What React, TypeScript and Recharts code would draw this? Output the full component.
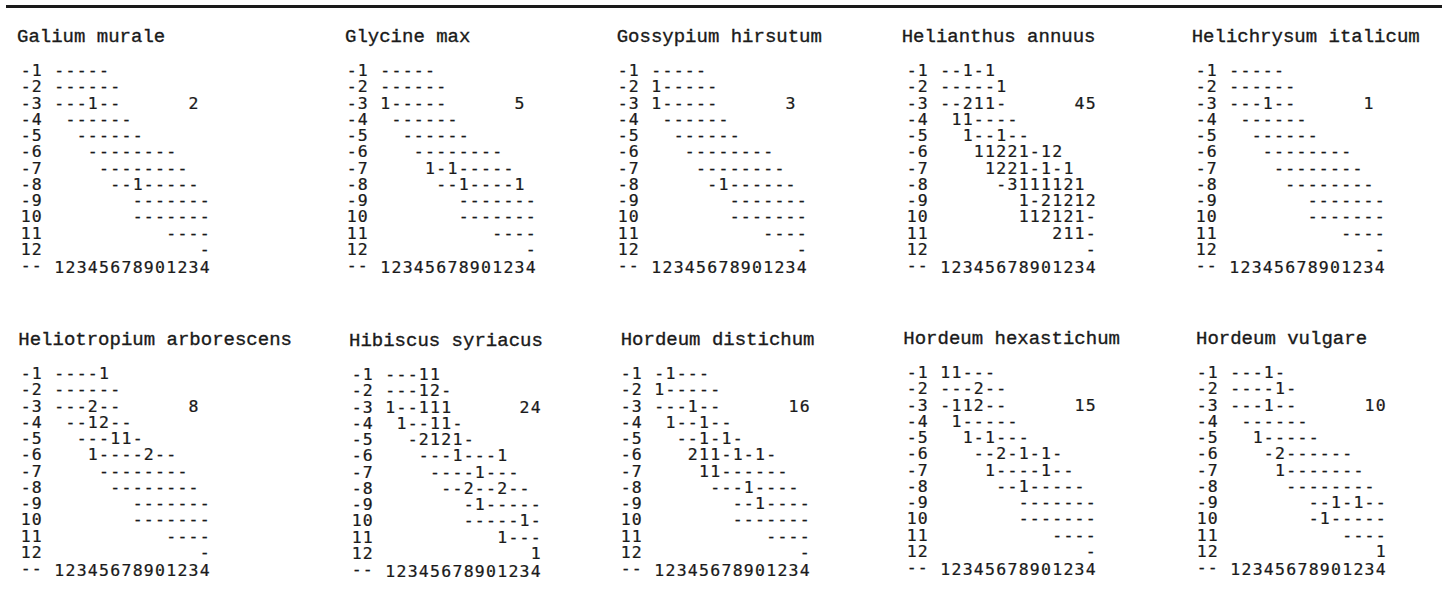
import { ScatterChart, Scatter, XAxis, YAxis } from "recharts";

// grid axes
const ROW_LABELS = ["-1", "-2", "-3", "-4", "-5", "-6", "-7", "-8", "-9", "10", "11", "12"];
const COL_LABELS = ["1", "2", "3", "4", "5", "6", "7", "8", "9", "0", "1", "2", "3", "4"];
const CORNER_LABEL = "--";
// first grid column used by each row
const ROW_FIRST_COL = [1, 1, 1, 2, 3, 4, 5, 6, 8, 8, 11, 14];

const SPECIES = [
  "Galium murale",
  "Glycine max",
  "Gossypium hirsutum",
  "Helianthus annuus",
  "Helichrysum italicum",
  "Heliotropium arborescens",
  "Hibiscus syriacus",
  "Hordeum distichum",
  "Hordeum hexastichum",
  "Hordeum vulgare",
];

// counts per cell, "-" = none
const galiumMurale = ["-----", "------", "---1--", "------", "------", "--------", "--------", "--1-----", "-------", "-------", "----", "-"];
const glycineMax = ["-----", "------", "1-----", "------", "------", "--------", "1-1-----", "--1----1", "-------", "-------", "----", "-"];
const gossypiumHirsutum = ["-----", "1-----", "1-----", "------", "------", "--------", "--------", "-1------", "-------", "-------", "----", "-"];
const helianthusAnnuus = ["--1-1", "-----1", "--211-", "11----", "1--1--", "11221-12", "1221-1-1", "-3111121", "1-21212", "112121-", "211-", "-"];
const helichrysumItalicum = ["-----", "------", "---1--", "------", "------", "--------", "--------", "--------", "-------", "-------", "----", "-"];
const heliotropiumArborescens = ["----1", "------", "---2--", "--12--", "---11-", "1----2--", "--------", "--------", "-------", "-------", "----", "-"];
const hibiscusSyriacus = ["---11", "---12-", "1--111", "1--11-", "-2121-", "---1---1", "----1---", "--2--2--", "-1-----", "-----1-", "1---", "1"];
const hordeumDistichum = ["-1---", "1-----", "---1--", "1--1--", "--1-1-", "211-1-1-", "11------", "---1----", "--1----", "-------", "----", "-"];
const hordeumHexastichum = ["11---", "---2--", "-112--", "1-----", "1-1---", "--2-1-1-", "1----1--", "--1-----", "-------", "-------", "----", "-"];
const hordeumVulgare = ["---1-", "----1-", "---1--", "------", "1-----", "-2------", "1-------", "--------", "--1-1--", "-1-----", "----", "1"];

const TOTALS = [2, 5, 3, 45, 1, 8, 24, 16, 15, 10];

const SPECIES_ROWS = [
  galiumMurale,
  glycineMax,
  gossypiumHirsutum,
  helianthusAnnuus,
  helichrysumItalicum,
  heliotropiumArborescens,
  hibiscusSyriacus,
  hordeumDistichum,
  hordeumHexastichum,
  hordeumVulgare,
];

// layout
const CHAR_W = 11.2;
const ROW_H = 16.25;
const PAD = 10;
const INK = "#1a1a1a";
const GRID_FONT = "'DejaVu Sans Mono', monospace";
const GRID_SIZE = 16.5;
const TITLE_FONT = "'Liberation Mono', monospace";
const TOTAL_POS = { col: 13, row: 3 };
const CORNER_ROW = ROW_LABELS.length + 1;
const X_TICKS = COL_LABELS.map((_, i) => i + 1);
const Y_TICKS = [...ROW_LABELS.map((_, i) => i + 1), CORNER_ROW];

const LAYOUT = [
  { col1: 53.3, row1: 70, titleX: 17, titleY: 42.5 },
  { col1: 380, row1: 70, titleX: 345, titleY: 42.5 },
  { col1: 651, row1: 70, titleX: 616.7, titleY: 42.5 },
  { col1: 939.3, row1: 70, titleX: 901.7, titleY: 42.5 },
  { col1: 1228.3, row1: 70, titleX: 1191.7, titleY: 42.5 },
  { col1: 53.3, row1: 373, titleX: 18.3, titleY: 346 },
  { col1: 385, row1: 374, titleX: 349, titleY: 346.5 },
  { col1: 653.3, row1: 373, titleX: 620.7, titleY: 346 },
  { col1: 939.3, row1: 372, titleX: 903.3, titleY: 345 },
  { col1: 1230, row1: 372, titleX: 1196, titleY: 345 },
];

const charRow = (text: string, x0: number, y: number) => (
  <g>
    {text.split("").map((c, i) => (
      <text
        key={i}
        x={x0 + i * CHAR_W}
        y={y}
        dy="0.36em"
        textAnchor="middle"
        fill={INK}
        stroke={INK}
        strokeWidth={0.25}
        fontFamily={GRID_FONT}
        fontSize={GRID_SIZE}
      >
        {c}
      </text>
    ))}
  </g>
);

// row labels sit in the two character cells left of the blank column
const RowTick = (props: any) => {
  const { x, y, payload } = props;
  const label = payload.value === CORNER_ROW ? CORNER_LABEL : ROW_LABELS[payload.value - 1] ?? "";
  return charRow(label, x - 1.5 * CHAR_W, y);
};

// column digits share the row of the "--" corner label
const ColTick = (props: any) => {
  const { x, y, payload } = props;
  return charRow(COL_LABELS[payload.value - 1], x, y - ROW_H / 2 + 2);
};

const renderGlyph = (props: any) => {
  const { cx, cy, payload } = props;
  return charRow(payload.ch, cx, cy);
};

const renderTotal = (props: any) => {
  const { cx, cy, payload } = props;
  return charRow(payload.label, cx, cy);
};

const Panel = ({ idx }: { idx: number }) => {
  const lay = LAYOUT[idx];
  const cells = SPECIES_ROWS[idx].flatMap((s, r) =>
    s.split("").map((ch, j) => ({ col: ROW_FIRST_COL[r] + j, row: r + 1, ch }))
  );
  const total = [{ ...TOTAL_POS, label: String(TOTALS[idx]) }];
  const width = 17 * CHAR_W + PAD;
  const height = 13 * ROW_H + 4 + 2 * PAD;

  return (
    <>
      <div
        style={{
          position: "absolute",
          left: lay.titleX,
          top: lay.titleY - 14.6,
          fontFamily: TITLE_FONT,
          fontSize: 19,
          lineHeight: "19px",
          color: INK,
          whiteSpace: "nowrap",
          WebkitTextStroke: "0.35px " + INK,
        }}
      >
        {SPECIES[idx]}
      </div>
      <div style={{ position: "absolute", left: lay.col1 - 3 * CHAR_W, top: lay.row1 - ROW_H / 2 - PAD }}>
        <ScatterChart width={width} height={height} margin={{ top: PAD, right: PAD, bottom: PAD, left: 0 }}>
          <XAxis
            type="number"
            dataKey="col"
            domain={[-0.5, 14.5]}
            ticks={X_TICKS}
            interval={0}
            allowDataOverflow
            axisLine={false}
            tickLine={false}
            tickSize={0}
            tickMargin={0}
            height={4}
            tick={<ColTick />}
          />
          <YAxis
            type="number"
            dataKey="row"
            domain={[0.5, CORNER_ROW + 0.5]}
            reversed
            ticks={Y_TICKS}
            interval={0}
            width={2 * CHAR_W}
            axisLine={false}
            tickLine={false}
            tickSize={0}
            tickMargin={0}
            tick={<RowTick />}
          />
          <Scatter data={cells} shape={renderGlyph} isAnimationActive={false} />
          <Scatter data={total} shape={renderTotal} isAnimationActive={false} />
        </ScatterChart>
      </div>
    </>
  );
};

export default function App() {
  return (
    <div style={{ position: "absolute", left: 0, top: 0, width: 1446, height: 599, background: "#fff", overflow: "hidden" }}>
      <div style={{ position: "absolute", left: 6, top: 4.5, width: 1436, height: 3, background: INK }} />
      {SPECIES.map((_, i) => (
        <Panel key={i} idx={i} />
      ))}
    </div>
  );
}
